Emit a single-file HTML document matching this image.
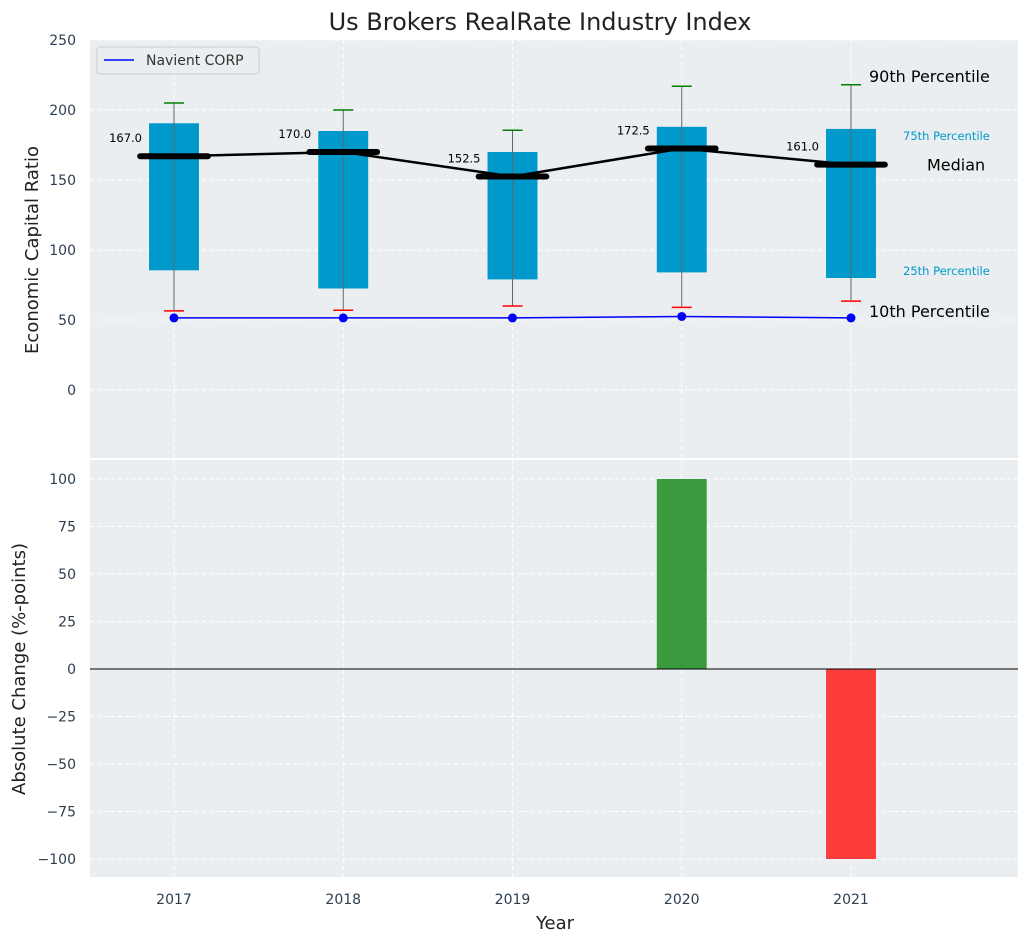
<!DOCTYPE html>
<html><head><meta charset="utf-8"><style>
body{margin:0;background:#fff;font-family:"DejaVu Sans","Liberation Sans",sans-serif}
svg text{font-family:"DejaVu Sans","Liberation Sans",sans-serif}
</style></head><body>
<svg id="c" width="1029" height="942"></svg>
<script>
const years=[2017,2018,2019,2020,2021];
const p10=[56.5,57,60,59,63.5];
const p25=[85.5,72.5,79,84,80];
const medians=[167,170,152.5,172.5,161];
const p75=[190.5,185,170,188,186.5];
const p90=[205,200,185.5,217,218];
const navient=[51.5,51.5,51.5,52.5,51.5];
const changes=[0,0,0,100,-100];
const topTicks=[0,50,100,150,200,250];
const botTicks=[-100,-75,-50,-25,0,25,50,75,100];

const NS='http://www.w3.org/2000/svg';
const svg=document.getElementById('c');
function el(t,a,p){const e=document.createElementNS(NS,t);for(const k in a)e.setAttribute(k,a[k]);(p||svg).appendChild(e);return e;}
const L=90,R=1018;
const x=v=>174+(v-2017)*169.25;
const T0=40,T1=458; const yT=v=>390-v*1.4;
const B0=460,B1=877; const yB=v=>669-v*1.9;
const bw=0.295*169.25;

let g=el('rect',{x:L,y:T0,width:R-L,height:T1-T0,fill:'#eaeef0'});

g=el('rect',{x:L,y:B0,width:R-L,height:B1-B0,fill:'#eaeef0'});


years.forEach(yr=>{
 el('line',{x1:x(yr),x2:x(yr),y1:T0,y2:T1,stroke:'#fff','stroke-dasharray':'4,3'});
 el('line',{x1:x(yr),x2:x(yr),y1:B0,y2:B1,stroke:'#fff','stroke-dasharray':'4,3'});
 const t=el('text',{x:x(yr),y:904,'text-anchor':'middle','font-size':14,fill:'#2d3e50'});t.textContent=yr;
 
});
topTicks.forEach(v=>{
 el('line',{x1:L,x2:R,y1:yT(v),y2:yT(v),stroke:'#fff','stroke-dasharray':'4,3'});
 const t=el('text',{x:76,y:yT(v)+5,'text-anchor':'end','font-size':14,fill:'#2d3e50'});t.textContent=v;
 
});
botTicks.forEach(v=>{
 el('line',{x1:L,x2:R,y1:yB(v),y2:yB(v),stroke:'#fff','stroke-dasharray':'4,3'});
 const t=el('text',{x:76,y:yB(v)+5,'text-anchor':'end','font-size':14,fill:'#2d3e50'});t.textContent=(v<0?'\u2212'+(-v):v);
 
});

years.forEach((yr,i)=>{
 const cx=x(yr);
 let b=el('rect',{x:cx-bw/2,y:yT(p75[i]),width:bw,height:yT(p25[i])-yT(p75[i]),fill:'#0099cc'});
 
 el('line',{x1:cx,x2:cx,y1:yT(p90[i]),y2:yT(p10[i]),stroke:'#666','stroke-width':1});
 let w=el('line',{x1:cx-10,x2:cx+10,y1:yT(p90[i]),y2:yT(p90[i]),stroke:'green','stroke-width':1.5});
 
 w=el('line',{x1:cx-10,x2:cx+10,y1:yT(p10[i]),y2:yT(p10[i]),stroke:'red','stroke-width':1.5});
 
});
let ml=el('polyline',{points:years.map((yr,i)=>x(yr)+','+yT(medians[i])).join(' '),fill:'none',stroke:'#000','stroke-width':2.5});

years.forEach((yr,i)=>{
 const cx=x(yr),bl=0.2*169.25;
 let m=el('line',{x1:cx-bl,x2:cx+bl,y1:yT(medians[i]),y2:yT(medians[i]),stroke:'#000','stroke-width':6,'stroke-linecap':'round'});
 
 const t=el('text',{x:cx-32,y:yT(medians[i])-14,'text-anchor':'end','font-size':11.5,fill:'#000'});t.textContent=medians[i].toFixed(1);
 
});
let nl=el('polyline',{points:years.map((yr,i)=>x(yr)+','+yT(navient[i])).join(' '),fill:'none',stroke:'blue','stroke-width':1.5});

years.forEach((yr,i)=>{const c=el('circle',{cx:x(yr),cy:yT(navient[i]),r:4.5,fill:'blue'});
 });

const last=4, lx=x(2021)+18;
[[p90[last],'90th Percentile',16,'#000',0,-9],[p75[last],'75th Percentile',11.5,'#0099cc',34,7],[medians[last],'Median',16,'#000',58,0],[p25[last],'25th Percentile',11.5,'#0099cc',34,-7],[p10[last],'10th Percentile',16,'#000',0,10]].forEach(a=>{
 const t=el('text',{x:lx+a[4],y:yT(a[0])+a[5]+(a[2]>12?6:4),'font-size':a[2],fill:a[3]});t.textContent=a[1];
 
});

years.forEach((yr,i)=>{
 if(!changes[i])return;
 const v=changes[i];
 const r=el('rect',{x:x(yr)-bw/2,y:Math.min(yB(0),yB(v)),width:bw,height:Math.abs(yB(v)-yB(0)),fill:v>0?'#3a9b3e':'#fd3c3c'});
 
});
el('line',{x1:L,x2:R,y1:yB(0),y2:yB(0),stroke:'#000','stroke-width':1});

let lg=el('g',{});
el('rect',{x:97,y:47,width:162,height:27,rx:3,fill:'#eaeef0',stroke:'#ccc'},lg);
el('line',{x1:104,x2:134,y1:60,y2:60,stroke:'blue','stroke-width':1.5},lg);
let lt=el('text',{x:146,y:65,'font-size':14,fill:'#333'},lg);lt.textContent='Navient CORP';

let t=el('text',{x:540,y:30,'text-anchor':'middle','font-size':24,fill:'#222'});t.textContent='Us Brokers RealRate Industry Index';

t=el('text',{x:555,y:929,'text-anchor':'middle','font-size':18,fill:'#222'});t.textContent='Year';

t=el('text',{x:0,y:0,'text-anchor':'middle','font-size':18,fill:'#222',transform:'translate(38,250) rotate(-90)'});t.textContent='Economic Capital Ratio';

t=el('text',{x:0,y:0,'text-anchor':'middle','font-size':18,fill:'#222',transform:'translate(25,669) rotate(-90)'});t.textContent='Absolute Change (%-points)';

</script>
</body></html>
